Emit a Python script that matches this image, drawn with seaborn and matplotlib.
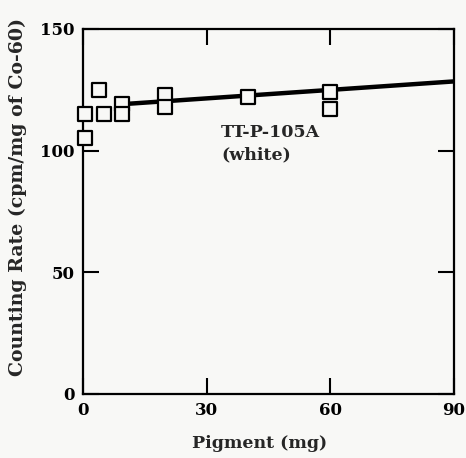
import matplotlib
matplotlib.use("Agg")
import matplotlib.pyplot as plt
import seaborn as sns
import pandas as pd

# Measured counting rates versus pigment load
pigment_mg = [0.5, 0.5, 4, 5, 9.5, 9.5, 20, 20, 40, 60, 60]
counting_rate = [115, 105, 125, 115, 119, 115, 123, 118, 122, 124, 117]

# Fitted trend line endpoints
fit_x = [10, 90]
fit_y = [119.1, 128.4]

x_ticks = [0, 30, 60, 90]
y_ticks = [0, 50, 100, 150]

sns.set_theme(style="white")
plt.rcParams["font.family"] = ["DejaVu Serif"]

bg = "#f8f8f6"
fig = plt.figure(figsize=(4.66, 4.58), dpi=100, facecolor=bg)
ax = fig.add_axes([0.178, 0.140, 0.796, 0.797], facecolor=bg)

points = pd.DataFrame({"Pigment": pigment_mg, "Rate": counting_rate})
trend = pd.DataFrame({"Pigment": fit_x, "Rate": fit_y})

sns.lineplot(data=trend, x="Pigment", y="Rate", ax=ax, color="black",
             linewidth=3.2, zorder=2)
sns.scatterplot(data=points, x="Pigment", y="Rate", ax=ax, marker="s",
                s=90, facecolor=bg, edgecolor="black", linewidth=1.6,
                zorder=3, clip_on=False)

ax.set_xlim(0, 90)
ax.set_ylim(0, 150)
ax.set_xticks(x_ticks)
ax.set_yticks(y_ticks)
ax.tick_params(axis="both", direction="in", length=11.5, width=1.5,
               labelsize=12, colors="black", top=True, right=True,
               left=True, bottom=True, pad=6)
for lab in ax.get_xticklabels() + ax.get_yticklabels():
    lab.set_fontweight("bold")
for sp in ax.spines.values():
    sp.set_visible(True)
    sp.set_color("black")
    sp.set_linewidth(1.6)

ax.set_xlabel("Pigment (mg)", fontsize=12.5, fontweight="bold")
ax.set_ylabel("Counting Rate (cpm/mg of Co-60)", fontsize=13.6,
              fontweight="bold")
ax.xaxis.set_label_coords(0.476, -0.112)
ax.yaxis.set_label_coords(-0.150, 0.54)

ax.text(33.5, 111, "TT-P-105A\n(white)", fontsize=12.5, fontweight="bold",
        ha="left", va="top", linespacing=1.45)

fig.savefig("out.png", dpi=100, facecolor=bg)
